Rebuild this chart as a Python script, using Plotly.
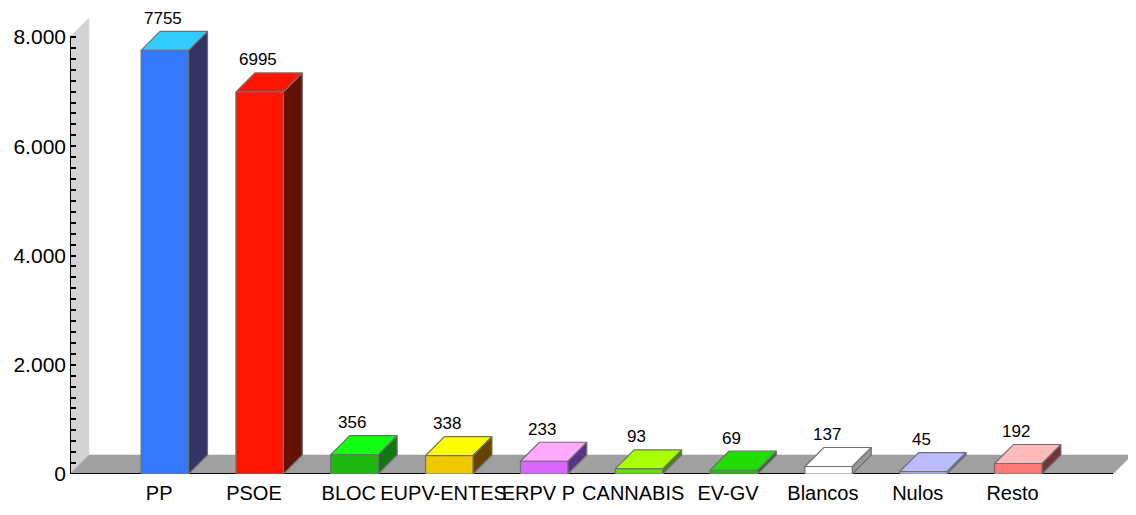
import plotly.graph_objects as go

categories = ["PP", "PSOE", "BLOC", "EUPV-ENTES", "ERPV P", "CANNABIS", "EV-GV", "Blancos", "Nulos", "Resto"]
values = [7755, 6995, 356, 338, 233, 93, 69, 137, 45, 192]
front_colors = ["#3377ff", "#ff1500", "#1fb811", "#f0c800", "#d966ff", "#66dd00", "#22bb11", "#ffffff", "#bbbbff", "#ff7777"]
top_colors = ["#33ccff", "#ff1500", "#11ff11", "#ffff00", "#ffaaff", "#aaff00", "#22dd00", "#ffffff", "#bbbbff", "#ffbbbb"]
side_colors = ["#333366", "#661100", "#117711", "#664400", "#553388", "#448800", "#117711", "#999999", "#7777aa", "#773333"]
y_tick_vals = [0, 2000, 4000, 6000, 8000]
y_tick_text = ["0", "2.000", "4.000", "6.000", "8.000"]
y_minor_vals = [v for v in range(200, 8000, 200) if v % 2000 != 0]

DX = 0.2      # depth offset in category units
DY = 348      # depth offset in value units
HW = 0.25     # half bar width
X0, X1 = -1, len(categories)
YMAX = 8000

fig = go.Figure()

def poly(xs, ys, fill, line="#707070", lw=1.2):
    fig.add_trace(go.Scatter(
        x=xs + [xs[0]], y=ys + [ys[0]], mode="lines", fill="toself",
        fillcolor=fill, line=dict(color=line, width=lw),
        hoverinfo="skip", showlegend=False))

# back wall (left)
poly([X0, X0 + DX, X0 + DX, X0], [0, DY, YMAX + DY, YMAX], "#d3d3d3", line="#d3d3d3", lw=0.5)
# floor
poly([X0, X1, X1 + DX, X0 + DX], [0, 0, DY, DY], "#a0a0a0", line="#a0a0a0", lw=0.5)
# axis lines
fig.add_trace(go.Scatter(x=[X0, X1], y=[0, 0], mode="lines", line=dict(color="black", width=2),
                         hoverinfo="skip", showlegend=False))
fig.add_trace(go.Scatter(x=[X0, X0], y=[0, YMAX], mode="lines", line=dict(color="black", width=2),
                         hoverinfo="skip", showlegend=False))

for i, v in enumerate(values):
    xl, xr = i - HW, i + HW
    # side face
    poly([xr, xr + DX, xr + DX, xr], [0, DY, v + DY, v], side_colors[i])
    # top face
    poly([xl, xr, xr + DX, xl + DX], [v, v, v + DY, v + DY], top_colors[i])
    # front face
    poly([xl, xr, xr, xl], [0, 0, v, v], front_colors[i])
    fig.add_annotation(x=i, y=v + DY, text=str(v), showarrow=False, yshift=13, xshift=-2,
                       font=dict(family="Liberation Sans, Arial", size=17, color="black"))

fig.update_layout(
    width=1128, height=507,
    margin=dict(l=62, r=4, t=0, b=41),
    paper_bgcolor="white", plot_bgcolor="white",
    xaxis=dict(range=[X0, X1 + DX], tickvals=[i - 0.06 for i in range(len(categories))],
               ticktext=categories, showgrid=False, zeroline=False, showline=False, ticks="",
               tickangle=0, automargin=False, ticklabelstandoff=5,
               tickfont=dict(family="Liberation Sans, Arial", size=20, color="black")),
    yaxis=dict(range=[0, 8531], tickvals=y_tick_vals, ticktext=y_tick_text, showgrid=False,
               zeroline=False, showline=False, ticks="inside", ticklen=6, tickcolor="black", tickwidth=1.5,
               automargin=False, ticklabelstandoff=3,
               minor=dict(tickvals=y_minor_vals, ticks="inside", ticklen=6, tickcolor="black", tickwidth=1.5),
               tickfont=dict(family="Liberation Sans, Arial", size=21, color="black")),
)

fig.write_html("out.html")
